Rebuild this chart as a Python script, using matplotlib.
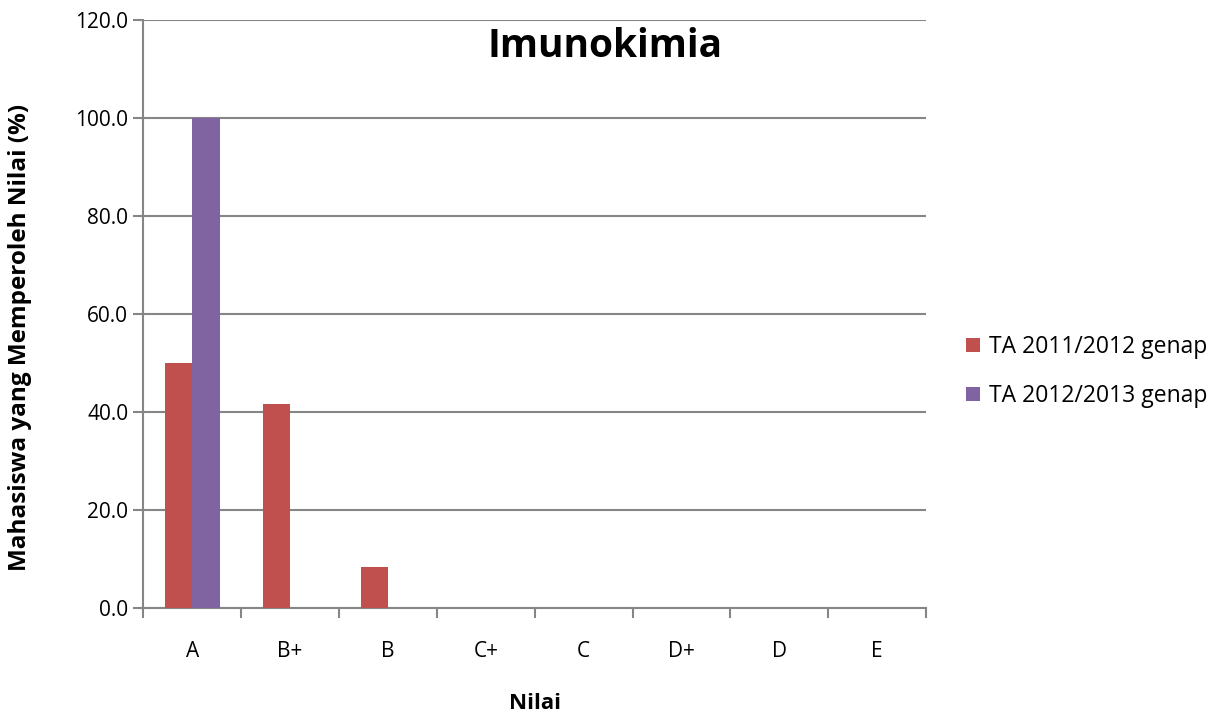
import matplotlib.pyplot as plt
import numpy as np

plt.rcParams['font.family'] = ['Open Sans', 'DejaVu Sans']

categories = ['A', 'B+', 'B', 'C+', 'C', 'D+', 'D', 'E']
ta_2011 = [50.0, 41.7, 8.3, 0, 0, 0, 0, 0]
ta_2012 = [100.0, 0, 0, 0, 0, 0, 0, 0]
series_labels = ['TA 2011/2012 genap', 'TA 2012/2013 genap']

fig = plt.figure(figsize=(12.26, 7.19), dpi=100)
ax = fig.add_axes([0.117, 0.1544, 0.6383, 0.8178])

x = np.arange(len(categories))
w = 0.28
ax.bar(x - w / 2, ta_2011, w, color='#C0504D', label=series_labels[0], zorder=3)
ax.bar(x + w / 2, ta_2012, w, color='#8064A2', label=series_labels[1], zorder=3)

ax.set_xlim(-0.5, len(categories) - 0.5)
ax.set_ylim(0, 120)
ax.set_yticks(np.arange(0, 121, 20))
ax.set_yticklabels([f'{v:.1f}' for v in np.arange(0, 121, 20)], fontsize=15)
ax.set_xticks(x)
ax.set_xticklabels(categories, fontsize=15)
ax.set_xticks(np.arange(-0.5, len(categories)), minor=True)
ax.tick_params(axis='x', which='major', length=0, pad=24)
ax.tick_params(axis='x', which='minor', length=7, color='#868686', width=1.5, direction='out')
ax.tick_params(axis='y', length=7, color='#868686', width=1.5, pad=4)

ax.grid(axis='y', color='#868686', linewidth=1.5, zorder=0)
for s in ['top', 'right']:
    ax.spines[s].set_visible(False)
for s in ['left', 'bottom']:
    ax.spines[s].set_color('#868686')
    ax.spines[s].set_linewidth(1.5)

ax.set_xlabel('Nilai', fontsize=16, fontweight='bold', labelpad=22)
ax.set_ylabel('Mahasiswa yang Memperoleh Nilai (%)', fontsize=17.5, fontweight='bold')
ax.yaxis.set_label_coords(-0.142, 0.46)
ax.text(0.59, 0.955, 'Imunokimia', transform=ax.transAxes, ha='center', va='center',
        fontsize=28, fontweight='bold')

ax.legend(loc='center left', bbox_to_anchor=(1.025, 0.402), frameon=False, fontsize=16.5,
          handlelength=0.6, handleheight=0.6, handletextpad=0.4, labelspacing=1.1)

fig.savefig('out.png', dpi=100)
